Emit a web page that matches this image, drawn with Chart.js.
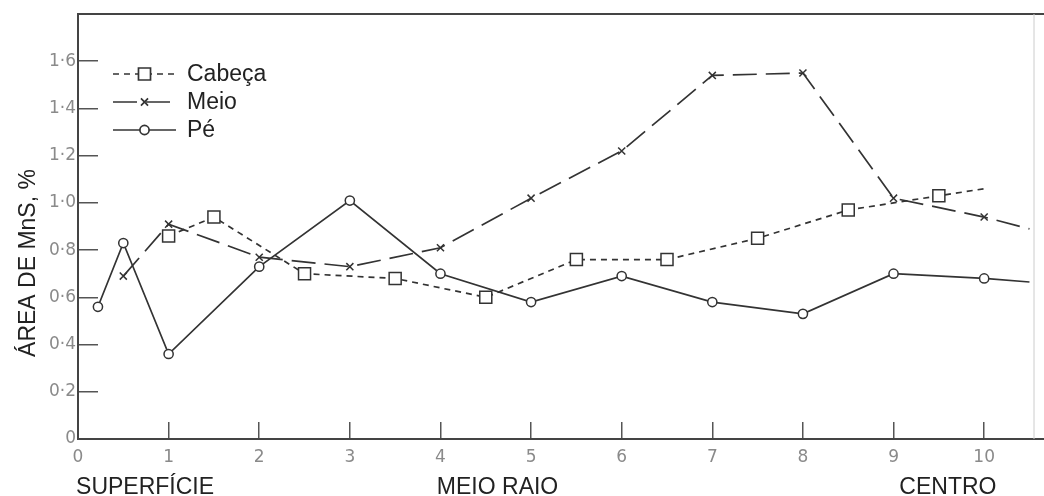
<!DOCTYPE html>
<html lang="pt">
<head>
<meta charset="UTF-8">
<title>Área de MnS</title>
<script src="https://cdn.jsdelivr.net/npm/chart.js"></script>
<style>
  html, body { margin: 0; padding: 0; background: #fff; }
  #wrap { width: 1044px; height: 496px; }
</style>
</head>
<body>
<div id="wrap"><canvas id="chart"></canvas></div>
<script>
// valores (posição x área de MnS, %)
const cabecaX = [1, 1.5, 2.5, 3.5, 4.5, 5.5, 6.5, 7.5, 8.5, 9.5, 10];
const cabecaY = [0.86, 0.94, 0.70, 0.68, 0.60, 0.76, 0.76, 0.85, 0.97, 1.03, 1.06];

const meioX = [0.5, 1, 2, 3, 4, 5, 6, 7, 8, 9, 10, 10.5];
const meioY = [0.69, 0.91, 0.77, 0.73, 0.81, 1.02, 1.22, 1.54, 1.55, 1.02, 0.94, 0.89];

const peX = [0.22, 0.5, 1, 2, 3, 4, 5, 6, 7, 8, 9, 10, 10.5];
const peY = [0.56, 0.83, 0.36, 0.73, 1.01, 0.70, 0.58, 0.69, 0.58, 0.53, 0.70, 0.68, 0.665];

const seriesNames = ['Cabeça', 'Meio', 'Pé'];
const regionLabels = ['SUPERFÍCIE', 'MEIO RAIO', 'CENTRO'];
const regionAt = [0.74, 4.63, 9.6];
const yTitle = 'ÁREA DE MnS, %';

const ink = '#333';
const font = '"Liberation Sans", Arial, sans-serif';

function pts(xs, ys) {
  return xs.map((x, i) => ({ x: x, y: ys[i] }));
}
// last point of each curve is just where the pen stopped: no marker
function noLast(r) {
  return ctx => ctx.dataIndex === ctx.dataset.data.length - 1 ? 0 : r;
}

const datasets = [
  { label: seriesNames[0], data: pts(cabecaX, cabecaY), borderDash: [6, 5],
    pointStyle: 'rect', radius: 8.5 },
  { label: seriesNames[1], data: pts(meioX, meioY), borderDash: [24, 9],
    pointStyle: 'crossRot', radius: 5 },
  { label: seriesNames[2], data: pts(peX, peY), borderDash: [],
    pointStyle: 'circle', radius: 4.6 }
].map(d => ({
  label: d.label,
  data: d.data,
  borderColor: ink,
  borderWidth: 1.7,
  borderDash: d.borderDash,
  pointStyle: d.pointStyle,
  pointRadius: noLast(d.radius),
  pointBackgroundColor: '#fff',
  pointBorderColor: ink,
  pointBorderWidth: 1.5,
  tension: 0,
  fill: false
}));

const extras = {
  id: 'extras',
  afterDraw(chart) {
    const c = chart.ctx;
    const a = chart.chartArea;
    c.save();
    // frame: top line, faint right edge, axis running out to the page edge
    c.strokeStyle = '#444';
    c.lineWidth = 2;
    c.beginPath();
    c.moveTo(a.left, a.top); c.lineTo(chart.width, a.top);
    c.moveTo(a.right, a.bottom); c.lineTo(chart.width, a.bottom);
    c.stroke();
    c.strokeStyle = '#ccc';
    c.lineWidth = 1;
    c.beginPath();
    c.moveTo(a.right, a.top); c.lineTo(a.right, a.bottom);
    c.stroke();

    // legend in the upper left corner
    chart.data.datasets.forEach((ds, i) => {
      const y = a.top + 60 + i * 28;
      const x0 = a.left + 35, x1 = a.left + 98;
      c.strokeStyle = ink;
      c.lineWidth = 1.7;
      c.setLineDash(ds.borderDash);
      c.beginPath();
      c.moveTo(x0, y); c.lineTo(x1, y);
      c.stroke();
      c.setLineDash([]);
      c.fillStyle = '#fff';
      const r = [8.5, 5, 4.6][i];
      Chart.helpers.drawPoint(c, { pointStyle: ds.pointStyle, radius: r, borderWidth: 1.5, rotation: 0 },
        (x0 + x1) / 2, y);
      c.fillStyle = '#222';
      c.font = '23px ' + font;
      c.textBaseline = 'middle';
      c.textAlign = 'left';
      c.fillText(ds.label, a.left + 109, y + 1);
    });

    // region names under the x axis
    const xs = chart.scales.x;
    c.fillStyle = '#222';
    c.font = '23px ' + font;
    c.textAlign = 'center';
    c.textBaseline = 'alphabetic';
    regionLabels.forEach((t, i) => {
      c.fillText(t, xs.getPixelForValue(regionAt[i]), 494);
    });

    // y axis title
    c.translate(29, 263);
    c.rotate(-Math.PI / 2);
    c.textBaseline = 'middle';
    c.fillText(yTitle, 0, 0);
    c.restore();
  }
};

new Chart(document.getElementById('chart'), {
  type: 'line',
  data: { datasets: datasets },
  options: {
    responsive: true,
    maintainAspectRatio: false,
    animation: false,
    layout: { padding: { top: 14, right: 9, left: 0, bottom: 0 } },
    plugins: {
      legend: { display: false },
      tooltip: { enabled: false }
    },
    scales: {
      x: {
        type: 'linear',
        min: 0,
        max: 10.55,
        afterFit: s => { s.height = 57; s.paddingLeft = 0; s.paddingRight = 0; },
        border: { display: true, color: '#444', width: 2 },
        grid: { drawOnChartArea: false, tickLength: -17, color: '#555', lineWidth: 1.5 },
        ticks: {
          stepSize: 1,
          includeBounds: false,
          autoSkip: false,
          maxRotation: 0,
          padding: 25,
          color: '#8a8a8a',
          font: { family: '"DejaVu Sans", sans-serif', size: 17 }
        }
      },
      y: {
        min: 0,
        max: 1.8,
        afterFit: s => { s.width = 78; s.paddingTop = 0; s.paddingBottom = 0; },
        border: { display: true, color: '#444', width: 2 },
        grid: {
          drawOnChartArea: false,
          tickLength: -20,
          lineWidth: 1.5,
          color: ctx => ctx.tick && ctx.tick.value > 1.7 ? 'rgba(0,0,0,0)' : '#555'
        },
        ticks: {
          stepSize: 0.2,
          padding: 22,
          color: '#8a8a8a',
          font: { family: '"DejaVu Sans", sans-serif', size: 17 },
          callback: v => v > 1.7 ? '' : (v === 0 ? '0' : v.toFixed(1).replace('.', '·'))
        }
      }
    }
  },
  plugins: [extras]
});
</script>
</body>
</html>
